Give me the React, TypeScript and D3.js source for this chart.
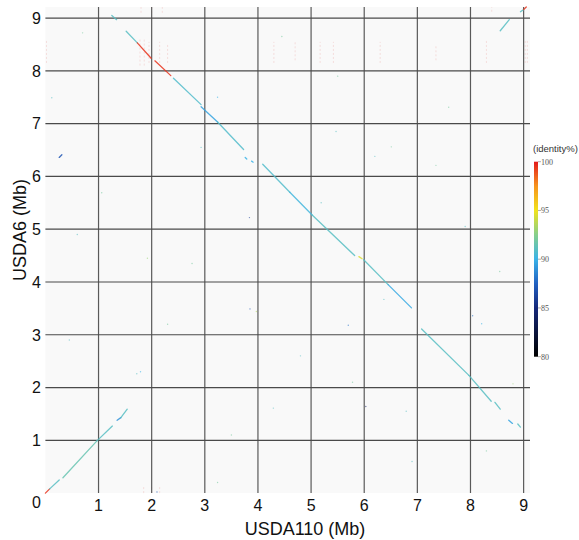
import React, { useEffect, useRef } from "react";
import * as d3 from "d3";

// axis extents (Mb)
const xLen = 9.12;
const yLen = 9.21;
const ticks = [1, 2, 3, 4, 5, 6, 7, 8, 9];
const legendTicks = [100, 95, 90, 85, 80];

// alignment blocks: [x1, y1, x2, y2, identity%]
const forwardHits: number[][] = [
  [0.0, 0.0, 0.08, 0.08, 99.5],
  [0.08, 0.08, 0.26, 0.25, 91],
  [0.33, 0.29, 0.97, 0.99, 91.5],
  [0.97, 0.99, 1.26, 1.27, 91],
  [1.35, 1.38, 1.42, 1.43, 89],
  [1.42, 1.43, 1.54, 1.59, 91],
];

const inverseHits: number[][] = [
  [1.25, 9.05, 1.34, 8.97, 91],
  [1.52, 8.75, 1.73, 8.53, 91],
  [1.73, 8.53, 1.99, 8.24, 99.5],
  [2.06, 8.19, 2.36, 7.91, 99.5],
  [2.41, 7.86, 2.93, 7.36, 90.8],
  [2.93, 7.32, 3.24, 7.03, 89.5],
  [3.24, 7.03, 3.73, 6.51, 90.8],
  [3.76, 6.36, 3.79, 6.33, 90],
  [3.88, 6.29, 3.91, 6.27, 90],
  [4.09, 6.23, 4.6, 5.7, 90.8],
  [4.6, 5.7, 5.02, 5.27, 90.3],
  [5.02, 5.27, 5.82, 4.5, 91],
  [5.9, 4.48, 5.96, 4.44, 94.5],
  [5.99, 4.42, 6.45, 3.95, 91],
  [6.45, 3.95, 6.89, 3.51, 89.7],
  [7.08, 3.11, 7.97, 2.23, 91],
  [7.97, 2.23, 8.39, 1.74, 91],
  [8.46, 1.72, 8.56, 1.59, 91],
  [8.72, 1.38, 8.79, 1.32, 89.5],
  [8.89, 1.31, 8.94, 1.25, 91],
];

const cornerHits: number[][] = [
  [8.56, 8.76, 8.73, 8.97, 91],
  [8.94, 9.12, 9.0, 9.16, 91],
  [9.0, 9.16, 9.05, 9.21, 99.5],
  [0.26, 6.36, 0.31, 6.41, 87],
];

// isolated short hits: [x, y, identity%]
const specks: number[][] = [
  [3.84, 5.22, 86], [3.97, 3.44, 93.5], [3.85, 3.49, 87], [6.03, 1.64, 84],
  [0.7, 8.72, 92], [3.24, 7.5, 90], [2.93, 6.55, 91], [5.47, 6.85, 91],
  [6.51, 6.56, 92], [7.59, 7.31, 92], [1.79, 2.3, 90], [1.72, 2.26, 91],
  [5.7, 3.18, 88], [8.04, 3.36, 88], [8.21, 3.21, 90], [8.8, 2.07, 93],
  [5.78, 2.1, 92], [6.79, 1.55, 91], [4.29, 1.61, 91], [2.1, 0.02, 87],
  [3.24, 0.2, 92], [5.19, 5.5, 91], [6.2, 6.38, 91], [7.35, 6.21, 92],
  [1.92, 4.45, 93], [2.76, 4.35, 92], [6.37, 3.67, 91], [1.06, 5.69, 92],
  [0.12, 7.49, 91], [4.45, 8.65, 92], [7.9, 5.05, 91], [8.55, 4.2, 92],
  [0.45, 2.9, 91], [2.3, 3.2, 92], [4.8, 2.6, 91], [3.5, 1.1, 92],
  [6.9, 0.6, 91], [8.3, 0.8, 92], [0.6, 4.9, 91], [5.5, 7.9, 92],
];

// faint repeat stripes near the top: [x, yStart, yEnd]
const repeatStripes: number[][] = [
  [0.02, 8.15, 8.6], [1.78, 8.1, 8.62], [1.86, 8.1, 8.62], [1.95, 8.15, 8.55],
  [2.15, 8.15, 8.55], [2.3, 8.15, 8.5], [4.3, 8.15, 8.55], [4.7, 8.2, 8.55],
  [5.17, 8.15, 8.55], [5.42, 8.15, 8.55], [6.3, 8.15, 8.55], [7.35, 8.2, 8.5],
  [8.3, 8.15, 8.6], [9.03, 8.15, 8.6], [9.07, 8.15, 8.6],
  [1.8, 9.1, 9.21], [2.0, 9.1, 9.21], [2.2, 9.1, 9.21], [8.4, 9.12, 9.21],
  [1.85, 0.0, 0.12], [2.0, 0.0, 0.12], [2.15, 0.0, 0.12],
];

const colorDomain = [80, 85, 87.5, 90, 92.5, 95, 97.5, 100];
const colorRange = ["#000000", "#16287a", "#2262c2", "#3ab3e8", "#86cf8c", "#f1e31c", "#f7941e", "#e31a1c"];

const W = 579;
const H = 540;

export default function App() {
  const svgRef = useRef<SVGSVGElement>(null);

  useEffect(() => {
    const svg = d3.select(svgRef.current);
    svg.selectAll("*").remove();

    const x = d3.scaleLinear().domain([0, xLen]).range([45.4, 530]);
    const y = d3.scaleLinear().domain([0, yLen]).range([493.1, 7]);
    const color = d3.scaleLinear<string>().domain(colorDomain).range(colorRange);

    const font = "Liberation Sans, Arial, Helvetica, sans-serif";

    // plot background
    svg.append("rect")
      .attr("x", x(0)).attr("y", y(yLen))
      .attr("width", x(xLen) - x(0)).attr("height", y(0) - y(yLen))
      .attr("fill", "#f9f9f9");

    // faint repeat stripes
    svg.append("g").selectAll("line")
      .data(repeatStripes)
      .enter().append("line")
      .attr("x1", d => x(d[0])).attr("x2", d => x(d[0]))
      .attr("y1", d => y(d[1])).attr("y2", d => y(d[2]))
      .attr("stroke", "#e0504c")
      .attr("stroke-opacity", 0.16)
      .attr("stroke-width", 1)
      .attr("stroke-dasharray", "2,2");

    // grid
    const grid = svg.append("g");
    grid.selectAll(".vg").data(ticks).enter().append("line")
      .attr("x1", d => x(d)).attr("x2", d => x(d))
      .attr("y1", y(yLen)).attr("y2", y(0))
      .attr("stroke", "#5a5a5a").attr("stroke-width", 1.2);
    grid.selectAll(".hg").data(ticks).enter().append("line")
      .attr("x1", x(0)).attr("x2", x(xLen))
      .attr("y1", d => y(d)).attr("y2", d => y(d))
      .attr("stroke", "#4a4a4a").attr("stroke-width", 1.2);

    // isolated hits
    svg.append("g").selectAll("circle")
      .data(specks)
      .enter().append("circle")
      .attr("cx", d => x(d[0])).attr("cy", d => y(d[1]))
      .attr("r", 0.7)
      .attr("fill", d => color(d[2]))
      .attr("fill-opacity", 0.6);

    // alignment blocks
    const hits = [...forwardHits, ...inverseHits, ...cornerHits];
    svg.append("g").selectAll("line")
      .data(hits)
      .enter().append("line")
      .attr("x1", d => x(d[0])).attr("y1", d => y(d[1]))
      .attr("x2", d => x(d[2])).attr("y2", d => y(d[3]))
      .attr("stroke", d => color(d[4]))
      .attr("stroke-opacity", 0.85)
      .attr("stroke-width", 1.3)
      .attr("stroke-linecap", "round");

    // tick labels
    svg.append("g").selectAll("text")
      .data(ticks)
      .enter().append("text")
      .attr("x", 41).attr("y", d => y(d))
      .attr("dy", "0.36em")
      .attr("text-anchor", "end")
      .attr("font-family", font).attr("font-size", 16).attr("fill", "#111")
      .text(d => d);
    svg.append("text")
      .attr("x", 41).attr("y", 508)
      .attr("text-anchor", "end")
      .attr("font-family", font).attr("font-size", 16).attr("fill", "#111")
      .text("0");
    svg.append("g").selectAll("text")
      .data(ticks)
      .enter().append("text")
      .attr("x", d => x(d)).attr("y", 511)
      .attr("text-anchor", "middle")
      .attr("font-family", font).attr("font-size", 16).attr("fill", "#111")
      .text(d => d);

    // axis titles
    svg.append("text")
      .attr("x", 305).attr("y", 535)
      .attr("text-anchor", "middle")
      .attr("font-family", font).attr("font-size", 18).attr("fill", "#111")
      .text("USDA110 (Mb)");
    svg.append("text")
      .attr("transform", `translate(26, 230) rotate(-90)`)
      .attr("text-anchor", "middle")
      .attr("font-family", font).attr("font-size", 18).attr("fill", "#111")
      .text("USDA6 (Mb)");

    // legend
    const lg = d3.scaleLinear().domain([80, 100]).range([356.7, 161.7]);
    const defs = svg.append("defs");
    const grad = defs.append("linearGradient")
      .attr("id", "identGrad")
      .attr("x1", 0).attr("y1", 1).attr("x2", 0).attr("y2", 0);
    colorDomain.forEach(v => {
      grad.append("stop")
        .attr("offset", (v - 80) / 20)
        .attr("stop-color", color(v));
    });
    svg.append("rect")
      .attr("x", 534).attr("y", lg(100))
      .attr("width", 4).attr("height", lg(80) - lg(100))
      .attr("fill", "url(#identGrad)");
    svg.append("g").selectAll("line")
      .data(legendTicks)
      .enter().append("line")
      .attr("x1", 538).attr("x2", 541)
      .attr("y1", d => lg(d)).attr("y2", d => lg(d))
      .attr("stroke", "#777").attr("stroke-width", 0.6);
    svg.append("g").selectAll("text")
      .data(legendTicks)
      .enter().append("text")
      .attr("x", 541).attr("y", d => lg(d))
      .attr("dy", "0.35em")
      .attr("font-family", "Liberation Serif, Times New Roman, serif")
      .attr("font-size", 8).attr("fill", "#555")
      .text(d => d);
    svg.append("text")
      .attr("x", 533).attr("y", 152)
      .attr("font-family", font).attr("font-size", 9.5).attr("fill", "#333")
      .text("(identity%)");
  }, []);

  return (
    <div style={{ position: "absolute", left: 0, top: 0 }}>
      <svg ref={svgRef} width={W} height={H} style={{ display: "block", background: "#fff" }}></svg>
    </div>
  );
}
